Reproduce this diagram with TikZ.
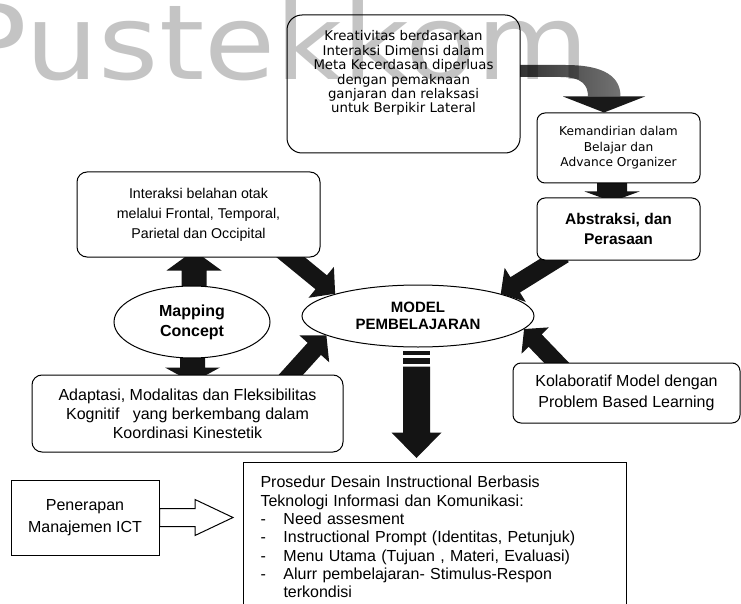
\documentclass[tikz,border=0pt]{standalone}
\usepackage{fontspec}
\usepackage{graphicx}
\setmainfont{Liberation Sans}
\newfontfamily\pixfont{DejaVu Sans}
\usetikzlibrary{calc,backgrounds,shapes.geometric}

\newcommand{\fsz}[2]{\fontsize{#1}{#2}\selectfont}

% straight block arrow from coordinate #2 to coordinate #3:
% shaft width #4, head width #5, head length #6
\newdimen\badx
\newdimen\bady
\newcommand{\blockarrow}[6][]{%
  \pgfextractx{\badx}{\pgfpointdiff{\pgfpointanchor{#2}{center}}{\pgfpointanchor{#3}{center}}}%
  \pgfextracty{\bady}{\pgfpointdiff{\pgfpointanchor{#2}{center}}{\pgfpointanchor{#3}{center}}}%
  \pgfmathsetmacro{\baAng}{atan2(\the\bady,\the\badx)}%
  \pgfmathsetmacro{\baL}{veclen(\the\badx,\the\bady)}%
  \pgfmathsetmacro{\baN}{\baL-#6}%
  \pgfmathsetmacro{\baS}{#4/2}%
  \pgfmathsetmacro{\baH}{#5/2}%
  \fill[#1, shift={(#2)}, rotate=\baAng]
    (0pt,-\baS pt) -- (\baN pt,-\baS pt) -- (\baN pt,-\baH pt) -- (\baL pt,0pt)
    -- (\baN pt,\baH pt) -- (\baN pt,\baS pt) -- (0pt,\baS pt) -- cycle;
}

\tikzset{
  rbox/.style={draw, line width=1pt, fill=white, rounded corners=#1, inner sep=0pt, align=center},
  rbox/.default=10pt,
  sbox/.style={draw, line width=1pt, fill=white, inner sep=0pt, align=center},
  oval/.style={draw, line width=1pt, fill=white, ellipse, inner sep=0pt, align=center},
  blk/.style={fill=black!92},
  hollow/.style={fill=white, draw=black, line width=1pt, line join=miter},
}

\begin{document}
\begin{tikzpicture}[x=1pt, y=-1pt]
\useasboundingbox (0,0) rectangle (741,604);
\clip (0,0) rectangle (741,604);

% ---------- boxes ----------
\node[rbox=15pt, minimum width=233, minimum height=138, font=\pixfont\fsz{13.3}{14.4}] (A) at (403.5,84)
  {\begin{tabular}{@{}c@{}}Kreativitas berdasarkan\\ Interaksi Dimensi dalam\\ Meta Kecerdasan diperluas\\ dengan pemaknaan\\ ganjaran dan relaksasi\\ untuk Berpikir Lateral\\[20pt]\end{tabular}};

\node[rbox=8pt, minimum width=163, minimum height=70, font=\pixfont\fsz{12.2}{15.5}] (B) at (618.5,148)
  {Kemandirian dalam\\ Belajar dan\\ Advance Organizer};

\node[rbox=8pt, minimum width=163, minimum height=62, font=\bfseries\fsz{15.5}{20}] (C) at (618.5,229)
  {Abstraksi, dan\\ Perasaan};

\node[rbox=10pt, minimum width=243, minimum height=85, font=\fsz{14.2}{20}] (D) at (198.5,214.5)
  {Interaksi belahan otak\\ melalui Frontal, Temporal,\\ Parietal dan Occipital};

\node[oval, minimum width=156, minimum height=72, font=\bfseries\fsz{16}{20}] (map) at (192,322)
  {Mapping\\ Concept};

\node[oval, minimum width=232, minimum height=62, font=\bfseries\fsz{15}{17}] (model) at (418,316)
  {MODEL\\ PEMBELAJARAN};

\node[rbox=10pt, minimum width=311, minimum height=77, font=\fsz{16}{19}] (E) at (187.5,413.5)
  {Adaptasi, Modalitas dan Fleksibilitas\\ Kognitif \ \ yang berkembang dalam\\ Koordinasi Kinestetik};

\node[rbox=8pt, minimum width=227, minimum height=60, font=\fsz{16}{21}] (F) at (626.5,393)
  {Kolaboratif Model dengan\\ Problem Based Learning};

\node[sbox, anchor=north west, inner xsep=17pt, inner ysep=13.8pt, text width=349, align=left, font=\fsz{16}{18.3}] (G) at (243,462)
  {Prosedur Desain Instructional Berbasis\\
   Teknologi Informasi dan Komunikasi:\\
   \makebox[23pt][l]{-}Need assesment\\
   \makebox[23pt][l]{-}Instructional Prompt (Identitas, Petunjuk)\\
   \makebox[23pt][l]{-}Menu Utama (Tujuan , Materi, Evaluasi)\\
   \makebox[23pt][l]{-}Alurr pembelajaran- Stimulus-Respon\\
   \hspace*{23pt}terkondisi};

\node[sbox, minimum width=148, minimum height=75, font=\fsz{16}{22}] (H) at (85,517.5)
  {Penerapan\\ Manajemen ICT};

% ---------- connectors ----------
\begin{pgfonlayer}{background}
  \fill[white] (0,0) rectangle (741,604);

  % curved arrow from the creativity box down to the autonomy box
  \shade[left color=black!82, right color=black!55]
    ($(A.east)+(-10,-19)$) -- ($(A.east)+(45,-19)$)
    .. controls ($(A.east)+(85,-19)$) and ($(B.north)+(2,-35)$) .. ($(B.north)+(2,-16)$)
    -- ($(B.north)+(-30.5,-16)$)
    .. controls ($(B.north)+(-30.5,-27)$) and ($(A.east)+(62,-7)$) .. ($(A.east)+(40,-7)$)
    -- ($(A.east)+(-10,-7)$) -- cycle;
  \fill[black!90] ($(B.north)+(-55.5,-16)$) -- ($(B.north)+(26.5,-16)$) -- ($(B.north)+(-14.5,0)$) -- cycle;

  \coordinate (s1) at ($(map.center)+(2,0)$);     \coordinate (t1) at ($(D.south)+(-4.5,-7)$);
  \blockarrow[blk]{s1}{t1}{25}{55}{20}
  \coordinate (s2) at ($(map.center)+(0.5,0)$);   \coordinate (t2) at ($(E.north)+(5,8)$);
  \blockarrow[blk]{s2}{t2}{25}{55}{15}
  \coordinate (s3) at ($(B.center)+(-6.5,0)$);    \coordinate (t3) at ($(C.north)+(-6.5,4)$);
  \blockarrow[blk]{s3}{t3}{30}{55}{10}
  \coordinate (s4) at ($(D.south)+(81.5,-9)$);    \coordinate (t4) at (model.165);
  \blockarrow[blk]{s4}{t4}{18}{40}{18}
  \coordinate (s5) at ($(E.north)+(95.5,9)$);     \coordinate (t5) at (model.192);
  \blockarrow[blk]{s5}{t5}{18}{40}{18}
  \coordinate (s6) at ($(C.south)+(-54.5,-6)$);   \coordinate (t6) at (model.15);
  \blockarrow[blk]{s6}{t6}{18}{40}{17}
  \coordinate (s7) at ($(F.north)+(-63.5,7)$);    \coordinate (t7) at (model.-7);
  \blockarrow[blk]{s7}{t7}{18}{38}{16}

  % striped arrow from the model down to the procedure box
  \coordinate (ms) at ($(model.south)+(-1.5,0)$);
  \fill[blk] ($(ms)+(-13.5,3)$) rectangle ($(ms)+(13.5,7)$);
  \fill[blk] ($(ms)+(-13.5,10)$) rectangle ($(ms)+(13.5,16)$);
  \fill[blk] ($(ms)+(-13.5,19)$) -- ($(ms)+(-13.5,85)$) -- ($(ms)+(-25,85)$)
    -- ($(G.north -| ms)+(0,-4)$) -- ($(ms)+(25,85)$) -- ($(ms)+(13.5,85)$) -- ($(ms)+(13.5,19)$) -- cycle;

  % hollow arrow from ICT management to the procedure box
  \coordinate (s8) at (H.east);  \coordinate (t8) at ($(G.west |- H.east)+(-10,0)$);
  \blockarrow[hollow]{s8}{t8}{18}{36}{38}
\end{pgfonlayer}

% ---------- watermark ----------
\node[anchor=base west, inner sep=0pt, text=black, text opacity=0.23, font=\pixfont\fsz{104}{104}] (wm) at (-42.6,80)
  {\scalebox{1.113}[1]{Pustekkom}};
\end{tikzpicture}
\end{document}
